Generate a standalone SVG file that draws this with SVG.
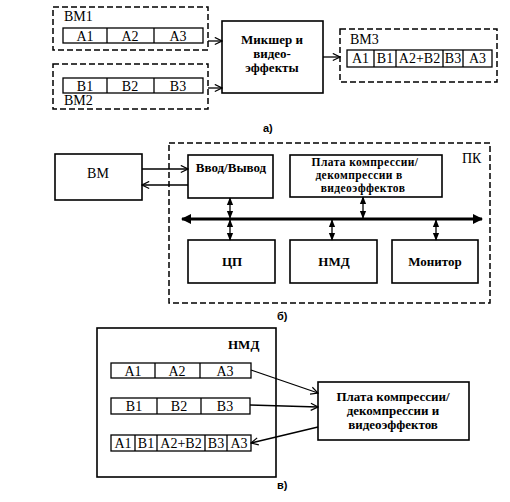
<svg xmlns="http://www.w3.org/2000/svg" width="510" height="502" viewBox="0 0 510 502">
<style>
.bg{fill:#fff}
.box{fill:#fff;stroke:#000;stroke-width:1.6}
.dash{fill:none;stroke:#000;stroke-width:1.5;stroke-dasharray:6 3}
.cell{fill:#fff;stroke:#000;stroke-width:1.3}
.ln{fill:none;stroke:#000;stroke-width:1.3}
.t{font-family:"Liberation Serif","DejaVu Serif",serif;font-size:14px;fill:#000}
.tb{font-family:"Liberation Serif","DejaVu Serif",serif;font-size:13px;font-weight:bold;fill:#000}
.ts{font-family:"Liberation Serif","DejaVu Serif",serif;font-size:11.5px;font-weight:bold;fill:#000;letter-spacing:0.4px}
.lbl{font-family:"Liberation Sans",sans-serif;font-size:11px;font-weight:bold;fill:#000}
.c{text-anchor:middle}
</style>
<defs>
<marker id="open" viewBox="0 0 10 10" refX="9" refY="5" markerWidth="9" markerHeight="9" markerUnits="userSpaceOnUse" orient="auto-start-reverse">
<path d="M1,1 L9,5 L1,9" fill="none" stroke="#000" stroke-width="1.3"/>
</marker>
<marker id="fill" viewBox="0 0 10 10" refX="9" refY="5" markerWidth="8" markerHeight="8" markerUnits="userSpaceOnUse" orient="auto-start-reverse">
<path d="M0,1 L10,5 L0,9 Z" fill="#000"/>
</marker>
<marker id="bus" viewBox="0 0 10 10" refX="9" refY="5" markerWidth="14" markerHeight="10" markerUnits="userSpaceOnUse" orient="auto-start-reverse">
<path d="M0,0 L10,5 L0,10 Z" fill="#000"/>
</marker>
</defs>
<rect class="bg" x="0" y="0" width="510" height="502"/>

<!-- Part a -->
<g id="vm1">
<rect class="dash" x="53" y="7" width="155" height="43"/>
<text class="t" x="64" y="21">ВМ1</text>
<rect class="cell" x="63" y="28" width="140" height="15"/>
<line class="ln" x1="107" y1="28" x2="107" y2="43"/>
<line class="ln" x1="154" y1="28" x2="154" y2="43"/>
<text class="t c" x="85" y="41">A1</text>
<text class="t c" x="130" y="41">A2</text>
<text class="t c" x="178" y="41">A3</text>
</g>
<g id="vm2">
<rect class="dash" x="53" y="64" width="155" height="45"/>
<text class="t" x="64" y="105">ВМ2</text>
<rect class="cell" x="63" y="78" width="140" height="15"/>
<line class="ln" x1="107" y1="78" x2="107" y2="93"/>
<line class="ln" x1="154" y1="78" x2="154" y2="93"/>
<text class="t c" x="85" y="91">B1</text>
<text class="t c" x="130" y="91">B2</text>
<text class="t c" x="178" y="91">B3</text>
</g>
<g id="mixer">
<rect class="box" x="222" y="21" width="101" height="72"/>
<text class="tb c" x="272" y="44">Микшер и</text>
<text class="tb c" x="272" y="58">видео-</text>
<text class="tb c" x="272" y="72">эффекты</text>
</g>
<g id="vm3">
<rect class="dash" x="340" y="29" width="157" height="53"/>
<text class="t" x="350" y="44">ВМ3</text>
<rect class="cell" x="347" y="50" width="145" height="17"/>
<line class="ln" x1="374" y1="50" x2="374" y2="67"/>
<line class="ln" x1="396" y1="50" x2="396" y2="67"/>
<line class="ln" x1="443" y1="50" x2="443" y2="67"/>
<line class="ln" x1="463" y1="50" x2="463" y2="67"/>
<text class="t c" x="360.5" y="63">A1</text>
<text class="t c" x="385" y="63">B1</text>
<text class="t c" x="419.5" y="63">A2+B2</text>
<text class="t c" x="453" y="63">B3</text>
<text class="t c" x="477.5" y="63">A3</text>
</g>
<text class="lbl" x="263" y="132">а)</text>

<!-- Part b -->
<g id="pc">
<rect class="dash" x="169" y="143" width="321" height="160"/>
<text class="t" x="462" y="163">ПК</text>
</g>
<g id="vm">
<rect class="box" x="55" y="154" width="87" height="46"/>
<text class="t c" x="98" y="178">ВМ</text>
</g>
<g id="io">
<rect class="box" x="188" y="155" width="85" height="43"/>
<text class="tb c" x="231" y="172">Ввод/Вывод</text>
</g>
<g id="board1">
<rect class="box" x="290" y="155" width="152" height="42"/>
<text class="ts c" x="365" y="166">Плата компрессии/</text>
<text class="ts c" x="359" y="179">декомпрессии в</text>
<text class="ts c" x="363" y="192">видеоэффектов</text>
</g>
<g id="cpu">
<rect class="box" x="188" y="240" width="87" height="43"/>
<text class="tb c" x="232" y="266">ЦП</text>
</g>
<g id="hdd1">
<rect class="box" x="290" y="240" width="87" height="43"/>
<text class="tb c" x="334" y="266">НМД</text>
</g>
<g id="monitor">
<rect class="box" x="392" y="240" width="86" height="43"/>
<text class="tb c" x="435" y="266">Монитор</text>
</g>
<text class="lbl" x="277" y="320">б)</text>

<!-- Part v -->
<g id="hdd2">
<rect class="box" x="97" y="328" width="179" height="149"/>
<text class="tb" x="228" y="349">НМД</text>
<rect class="cell" x="111" y="363" width="140" height="15"/>
<line class="ln" x1="155" y1="363" x2="155" y2="378"/>
<line class="ln" x1="200" y1="363" x2="200" y2="378"/>
<text class="t c" x="133" y="376">A1</text>
<text class="t c" x="177" y="376">A2</text>
<text class="t c" x="225" y="376">A3</text>
<rect class="cell" x="111" y="398" width="139" height="16"/>
<line class="ln" x1="157" y1="398" x2="157" y2="414"/>
<line class="ln" x1="201" y1="398" x2="201" y2="414"/>
<text class="t c" x="134" y="411">B1</text>
<text class="t c" x="179" y="411">B2</text>
<text class="t c" x="225" y="411">B3</text>
<rect class="cell" x="111" y="435" width="140" height="16"/>
<line class="ln" x1="135" y1="435" x2="135" y2="451"/>
<line class="ln" x1="157" y1="435" x2="157" y2="451"/>
<line class="ln" x1="205" y1="435" x2="205" y2="451"/>
<line class="ln" x1="227" y1="435" x2="227" y2="451"/>
<text class="t c" x="123" y="448">A1</text>
<text class="t c" x="146" y="448">B1</text>
<text class="t c" x="181" y="448">A2+B2</text>
<text class="t c" x="216" y="448">B3</text>
<text class="t c" x="239" y="448">A3</text>
</g>
<g id="board2">
<rect class="box" x="318" y="382" width="151" height="58"/>
<text class="tb c" x="393" y="401">Плата компрессии/</text>
<text class="tb c" x="393" y="415">декомпрессии и</text>
<text class="tb c" x="393" y="429">видеоэффектов</text>
</g>
<text class="lbl" x="277" y="489">в)</text>

<g id="connectors">
<line class="ln" x1="208" y1="41" x2="222" y2="41" marker-end="url(#open)"/>
<line class="ln" x1="208" y1="88" x2="222" y2="88" marker-end="url(#open)"/>
<line class="ln" x1="323" y1="57" x2="340" y2="57" marker-end="url(#open)"/>
<line class="ln" x1="142" y1="169" x2="188" y2="169" marker-end="url(#open)"/>
<line class="ln" x1="188" y1="185" x2="142" y2="185" marker-end="url(#open)"/>
<line x1="182" y1="219" x2="482" y2="219" stroke="#000" stroke-width="3" marker-start="url(#bus)" marker-end="url(#bus)"/>
<line class="ln" x1="230" y1="198" x2="230" y2="218" marker-start="url(#fill)" marker-end="url(#fill)"/>
<line class="ln" x1="230" y1="220" x2="230" y2="240" marker-start="url(#fill)" marker-end="url(#fill)"/>
<line class="ln" x1="363" y1="197" x2="363" y2="218" marker-start="url(#fill)" marker-end="url(#fill)"/>
<line class="ln" x1="332" y1="220" x2="332" y2="240" marker-start="url(#fill)" marker-end="url(#fill)"/>
<line class="ln" x1="436" y1="220" x2="436" y2="240" marker-start="url(#fill)" marker-end="url(#fill)"/>
<line class="ln" x1="251" y1="370" x2="318" y2="393" marker-end="url(#open)"/>
<line class="ln" x1="250" y1="405" x2="318" y2="407" marker-end="url(#open)"/>
<line class="ln" x1="318" y1="427" x2="251" y2="443" marker-end="url(#open)"/>
</g>
</svg>
